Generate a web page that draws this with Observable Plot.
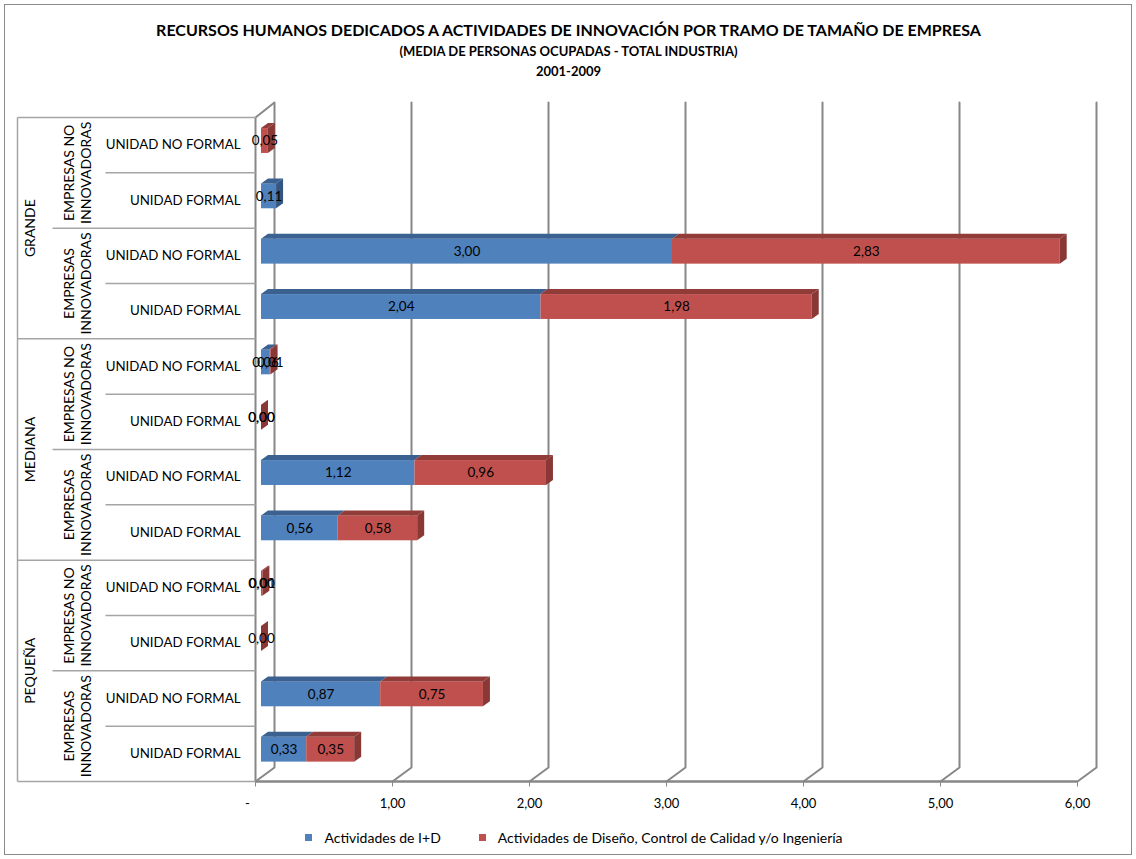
<!DOCTYPE html>
<html><head><meta charset="utf-8">
<script src="https://cdn.jsdelivr.net/npm/d3@7"></script>
<script src="https://cdn.jsdelivr.net/npm/@observablehq/plot@0.6"></script>
<style>
body{margin:0;background:#fff;font-family:Lato,"Open Sans",sans-serif;}
#wrap{position:relative;width:1136px;height:859px;overflow:hidden;}
#border{position:absolute;left:4px;top:4px;width:1128px;height:851px;border:1px solid #8a8a8a;box-sizing:border-box;pointer-events:none}
#legend{position:absolute;top:829px;left:6px;width:1136px;display:flex;justify-content:center;gap:38px;font-size:14px;color:#000;}
#legend span.sw{display:inline-block;width:7px;height:7px;margin-right:12px;}
#legend div{display:flex;align-items:center;}
</style></head><body>
<div id="wrap"><div id="chart"></div><div id="legend"></div><div id="border"></div></div>
<script>
// ---------------- data ----------------
const tamanos = ["GRANDE", "MEDIANA", "PEQUEÑA"];
const tipos = ["EMPRESAS NO\nINNOVADORAS", "EMPRESAS\nINNOVADORAS"];
const unidades = ["UNIDAD NO FORMAL", "UNIDAD FORMAL"];
const series = ["Actividades de I+D", "Actividades de Diseño, Control de Calidad y/o Ingeniería"];
// rows top to bottom: tamaño > tipo > unidad
const valoresID      = [null, 0.11, 3.00, 2.04, 0.06, 0.00, 1.12, 0.56, 0.00, null, 0.87, 0.33];
const valoresDiseno  = [0.05, null, 2.83, 1.98, 0.01, 0.00, 0.96, 0.58, 0.01, 0.00, 0.75, 0.35];
const xTicks = [0, 1, 2, 3, 4, 5, 6];
const xTickLabels = ["-", "1,00", "2,00", "3,00", "4,00", "5,00", "6,00"];
const title = "RECURSOS HUMANOS DEDICADOS A ACTIVIDADES DE INNOVACIÓN POR TRAMO DE TAMAÑO DE EMPRESA";
const subtitle = "(MEDIA DE PERSONAS OCUPADAS - TOTAL INDUSTRIA)";
const period = "2001-2009";

// ---------------- styles ----------------
const frontColors = ["#4F81BD", "#C0504D"];
const topColors = ["#3A6190", "#923C3A"];
const sideColors = ["#335782", "#8A3836"];
const gridColor = "#878787";
const tableColor = "#a5a5a5";

// ---------------- layout helpers ----------------
const W = 1136, H = 859;
const xRange = [261, 1083], yRange = [117, 781];
const px = d3.scaleLinear([0, 6], xRange);
const py = d3.scaleLinear([0, 12], yRange);
const ux = p => px.invert(p);
const uy = p => py.invert(p);
const depthX = ux(268) - ux(261);
const depthY = uy(117) - uy(112);
const frontOff = ux(255) - ux(261);
const backOff = ux(274) - ux(261);
const zeroLabelOff = ux(247) - ux(255);
const backTop = uy(102), backBottom = uy(767), frontBottom = 12;

const nRows = valoresID.length;
const vals = [valoresID, valoresDiseno];
const rows = d3.range(nRows).map(i => ({
  i,
  tamano: tamanos[Math.floor(i / 4)],
  tipo: tipos[Math.floor(i / 2) % 2],
  unidad: unidades[i % 2]
}));

const barTop = i => i + 0.5 - 0.30;
const barBot = i => i + 0.5 + 0.15;

const segs = [];
const sides = [];
rows.forEach(r => {
  let start = 0, last = null;
  vals.forEach((arr, s) => {
    const v = arr[r.i];
    if (v == null) return;
    segs.push({id: r.i + "-" + s, row: r.i, s, serie: series[s], x1: start, x2: start + v, v});
    start += v; last = s;
  });
  if (last != null) sides.push({row: r.i, s: last, end: start});
});

const topPts = segs.flatMap(d => [
  {id: d.id, s: d.s, y: barTop(d.row), x1: d.x1, x2: d.x2},
  {id: d.id, s: d.s, y: barTop(d.row) - depthY, x1: d.x1 + depthX, x2: d.x2 + depthX}
]);
const sidePts = sides.flatMap(d => [
  {id: d.row, s: d.s, x: d.end, y1: barTop(d.row), y2: barBot(d.row)},
  {id: d.row, s: d.s, x: d.end + depthX, y1: barTop(d.row) - depthY, y2: barBot(d.row) - depthY}
]);
const gridPts = xTicks.flatMap(t => [
  {t, x: t + backOff, y: backTop},
  {t, x: t + backOff, y: backBottom},
  {t, x: t + frontOff, y: frontBottom}
]);
// table horizontal boundaries
const bounds = d3.range(nRows + 1).map(b => ({
  b,
  x1: b % 4 === 0 ? ux(17) : (b % 2 === 0 ? ux(52) : ux(105)),
  x2: frontOff
}));
const groups2 = d3.range(nRows / 2).map(g => ({g, label: tipos[g % 2], y: g * 2 + 1}));
const groups1 = d3.range(nRows / 4).map(g => ({g, label: tamanos[g], y: g * 4 + 2}));

const fmt = v => d3.format(".2f")(v).replace(".", ",");

const chart = Plot.plot({
  width: W, height: H,
  marginTop: 0, marginRight: 0, marginBottom: 0, marginLeft: 0,
  x: {type: "linear", domain: [0, 6], range: xRange, axis: null},
  y: {type: "linear", domain: [0, 12], range: yRange, axis: null},
  style: {fontFamily: "Lato, 'Open Sans', sans-serif", background: "white", overflow: "visible"},
  marks: [
    // back wall gridlines
    Plot.line(gridPts, {x: "x", y: "y", z: "t", stroke: gridColor, strokeWidth: 2}),
    // left wall top edge
    Plot.link([0], {x1: frontOff, y1: 0, x2: backOff, y2: backTop, stroke: gridColor, strokeWidth: 2}),
    // front axes
    Plot.link([0], {x1: frontOff, y1: 0, x2: frontOff, y2: frontBottom, stroke: gridColor, strokeWidth: 2}),
    Plot.link([0], {x1: frontOff, y1: frontBottom, x2: 6 + frontOff, y2: frontBottom, stroke: gridColor, strokeWidth: 2.5}),
    Plot.link(xTicks, {x1: t => t + frontOff, x2: t => t + frontOff, y1: frontBottom, y2: uy(786), stroke: gridColor, strokeWidth: 1}),
    // category table
    Plot.link(bounds, {x1: "x1", x2: "x2", y1: "b", y2: "b", stroke: tableColor, strokeWidth: 1.5}),
    Plot.link([0], {x1: ux(17), x2: ux(17), y1: 0, y2: nRows, stroke: tableColor, strokeWidth: 1.5}),
    // bars: front faces
    Plot.rect(segs, {x1: "x1", x2: "x2", y1: d => barTop(d.row), y2: d => barBot(d.row), fill: d => frontColors[d.s]}),
    // top faces
    Plot.areaX(topPts, {y: "y", x1: "x1", x2: "x2", z: "id", fill: d => topColors[d.s], curve: "linear"}),
    // side faces
    Plot.areaY(sidePts, {x: "x", y1: "y1", y2: "y2", z: "id", fill: d => sideColors[d.s], curve: "linear"}),
    // data labels
    Plot.text(segs, {x: d => (d.x1 + d.x2) / 2, y: d => (barTop(d.row) + barBot(d.row)) / 2, text: d => fmt(d.v), fontSize: 13.5, fill: "#000"}),
    // category labels
    Plot.text(rows, {x: ux(240), y: d => d.i + 0.5, text: "unidad", textAnchor: "end", fontSize: 13.3, fill: "#000"}),
    Plot.text(groups2, {x: ux(77), y: "y", text: "label", rotate: -90, fontSize: 14, lineHeight: 1.2, fill: "#000"}),
    Plot.text(groups1, {x: ux(30), y: "y", text: "label", rotate: -90, fontSize: 14, fill: "#000"}),
    // x tick labels
    Plot.text(xTicks, {x: t => t + frontOff + (t === 0 ? zeroLabelOff : 0), y: uy(803), text: (t, i) => xTickLabels[i], fontSize: 13, fill: "#000"}),
    // titles
    Plot.text([title], {frameAnchor: "top", dy: 30, lineAnchor: "middle", fontWeight: "bold", fontSize: 16, fill: "#000"}),
    Plot.text([subtitle], {frameAnchor: "top", dy: 51, lineAnchor: "middle", fontWeight: "bold", fontSize: 13, fill: "#000"}),
    Plot.text([period], {frameAnchor: "top", dy: 71, lineAnchor: "middle", fontWeight: "bold", fontSize: 13, fill: "#000"})
  ]
});
document.getElementById("chart").append(chart);

// legend
const leg = document.getElementById("legend");
series.forEach((s, k) => {
  const item = document.createElement("div");
  const sw = document.createElement("span");
  sw.className = "sw"; sw.style.background = frontColors[k];
  item.append(sw, document.createTextNode(s));
  leg.append(item);
});
</script>
</body></html>
